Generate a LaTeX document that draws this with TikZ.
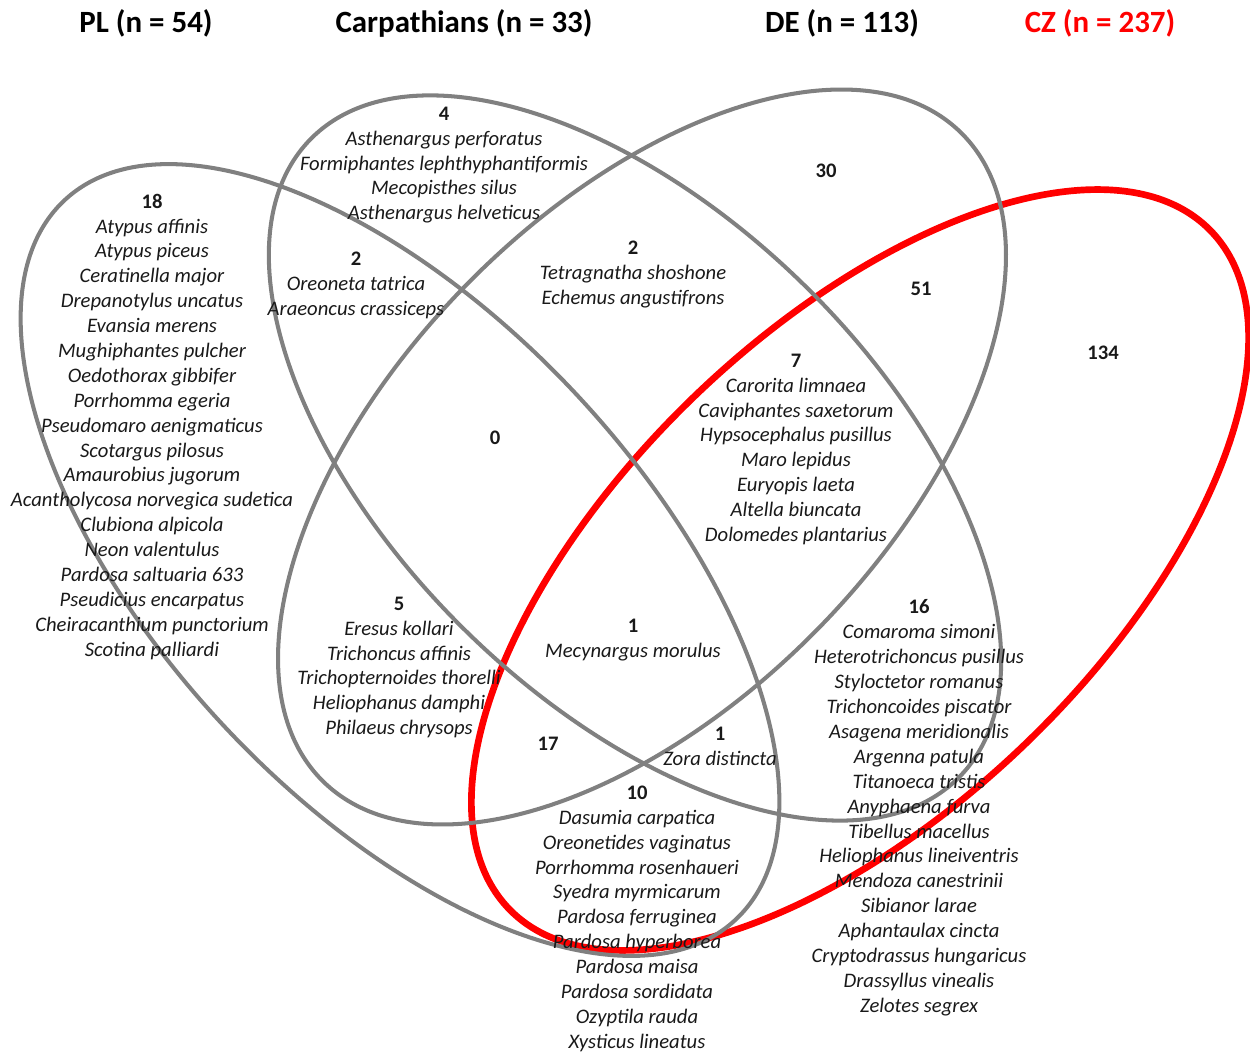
\documentclass[tikz,border=0pt]{standalone}
\usepackage{fontspec}
\setmainfont{Carlito}
\definecolor{vgray}{RGB}{128,128,128}
\definecolor{vred}{RGB}{255,0,0}
\newcommand\vnum[1]{\textbf{\upshape #1}}
\begin{document}
\begin{tikzpicture}[x=0.02cm,y=-0.02cm,
  lbl/.style={align=center,inner sep=0pt,anchor=north,text=black!90,
    font=\fontsize{11.75}{14.17}\selectfont\itshape},
  hdr/.style={inner sep=0pt,anchor=base,font=\fontsize{17.6}{20}\selectfont\bfseries},
  grayset/.style={draw=vgray,line width=2.3pt},
  redset/.style={draw=vred,line width=3.8pt}]
\useasboundingbox (0,0) rectangle (1250,1053);
% sets
\draw[redset,rotate around={44:(860,570)}] (860,570) ellipse [x radius=9.76cm, y radius=4.8cm];
\draw[grayset,rotate around={-47:(400,560)}] (400,560) ellipse [x radius=9.84cm, y radius=4.84cm];
\draw[grayset,rotate around={-44.5:(635,458)}] (635,458) ellipse [x radius=9.1cm, y radius=4.84cm];
\draw[grayset,rotate around={45.5:(642,457)}] (642,457) ellipse [x radius=9.1cm, y radius=4.92cm];
% headers
\node[hdr] (hPL) at (146,33) {PL (n = 54)};
\node[hdr] (hCA) at (464,33) {Carpathians (n = 33)};
\node[hdr] (hDE) at (842,33) {DE (n = 113)};
\node[hdr,text=vred] (hCZ) at (1100,33) {CZ (n = 237)};
% regions
\node[lbl] (rPL) at (152,193.5) {\vnum{18}\\Atypus affinis\\Atypus piceus\\Ceratinella major\\Drepanotylus uncatus\\Evansia merens\\Mughiphantes pulcher\\Oedothorax gibbifer\\Porrhomma egeria\\Pseudomaro aenigmaticus\\Scotargus pilosus\\Amaurobius jugorum\\Acantholycosa norvegica sudetica\\Clubiona alpicola\\Neon valentulus\\Pardosa saltuaria 633\\Pseudicius encarpatus\\Cheiracanthium punctorium\\Scotina palliardi};
\node[lbl] (rCA) at (444,106.5) {\vnum{4}\\Asthenargus perforatus\\Formiphantes lephthyphantiformis\\Mecopisthes silus\\Asthenargus helveticus};
\node[lbl] (rPLCA) at (356,251.5) {\vnum{2}\\Oreoneta tatrica\\Araeoncus crassiceps};
\node[lbl] (rCADE) at (633,240.5) {\vnum{2}\\Tetragnatha shoshone\\Echemus angustifrons};
\node[lbl] (rDE) at (826,163.5) {\vnum{30}};
\node[lbl] (rDECZ) at (921,281.5) {\vnum{51}};
\node[lbl] (rCZ) at (1103,345.5) {\vnum{134}};
\node[lbl] (rPLCADE) at (495,430.5) {\vnum{0}};
\node[lbl] (rCADECZ) at (796,353.5) {\vnum{7}\\Carorita limnaea\\Caviphantes saxetorum\\Hypsocephalus pusillus\\Maro lepidus\\Euryopis laeta\\Altella biuncata\\Dolomedes plantarius};
\node[lbl] (rPLDE) at (399,596.5) {\vnum{5}\\Eresus kollari\\Trichoncus affinis\\Trichopternoides thorelli\\Heliophanus damphi\\Philaeus chrysops};
\node[lbl] (rALL) at (633,618.5) {\vnum{1}\\Mecynargus morulus};
\node[lbl] (rPLCACZ) at (720,726.5) {\vnum{1}\\Zora distincta};
\node[lbl] (rPLDECZ) at (548,736.5) {\vnum{17}};
\node[lbl] (rCACZ) at (919,599.5) {\vnum{16}\\Comaroma simoni\\Heterotrichoncus pusillus\\Styloctetor romanus\\Trichoncoides piscator\\Asagena meridionalis\\Argenna patula\\Titanoeca tristis\\Anyphaena furva\\Tibellus macellus\\Heliophanus lineiventris\\Mendoza canestrinii\\Sibianor larae\\Aphantaulax cincta\\Cryptodrassus hungaricus\\Drassyllus vinealis\\Zelotes segrex};
\node[lbl] (rPLCZ) at (637,785.5) {\vnum{10}\\Dasumia carpatica\\Oreonetides vaginatus\\Porrhomma rosenhaueri\\Syedra myrmicarum\\Pardosa ferruginea\\Pardosa hyperborea\\Pardosa maisa\\Pardosa sordidata\\Ozyptila rauda\\Xysticus lineatus};
\end{tikzpicture}
\end{document}
